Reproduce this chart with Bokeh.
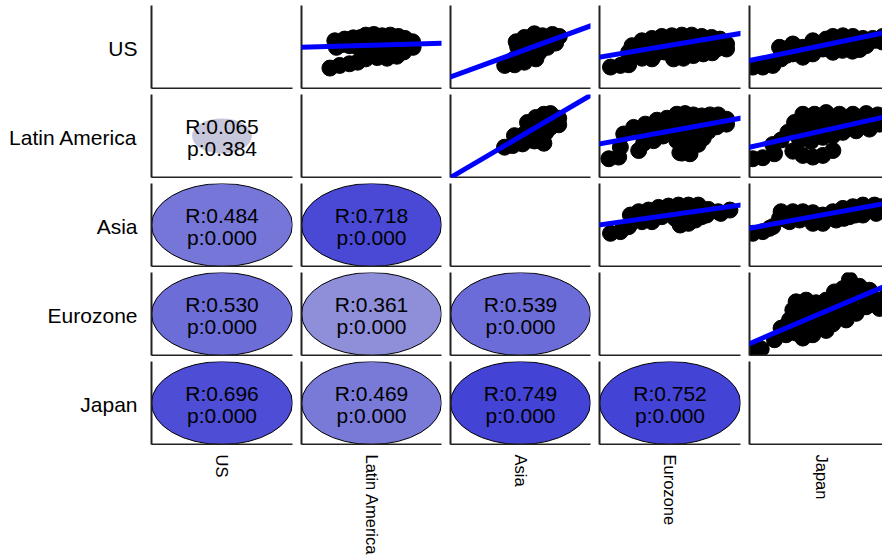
import numpy as np
from bokeh.plotting import figure
from bokeh.layouts import gridplot
from bokeh.models import Range1d, LinearAxis, FixedTicker, Slope
from bokeh.core.properties import value
from bokeh.embed import file_html
from bokeh.resources import INLINE

# ---------------- data ----------------
names = ["US", "Latin America", "Asia", "Eurozone", "Japan"]

# lower triangle: (row, col) pairs with correlation R and p value
corr_rows = [1, 2, 2, 3, 3, 3, 4, 4, 4, 4]
corr_cols = [0, 0, 1, 0, 1, 2, 0, 1, 2, 3]
corr_r = [0.065, 0.484, 0.718, 0.530, 0.361, 0.539, 0.696, 0.469, 0.749, 0.752]
corr_p = [0.384, 0.000, 0.000, 0.000, 0.000, 0.000, 0.000, 0.000, 0.000, 0.000]

# upper triangle scatter panels (values on a 0-100 scale of each panel)
us_latam_x = [20.3, 27.3, 34.3, 40.1, 45.9, 23.8, 30.8, 24.9, 34.3, 42.4, 45.9, 51.7, 57.6, 63.4, 69.2, 73.9, 79.3, 79.7, 73.9, 65.7, 58.7, 51.7, 44.8, 54.1, 61.1, 68.1,
              30, 38, 40, 48, 55, 62, 70, 76, 52, 59, 66, 73, 48, 29, 37]
us_latam_y = [24.6, 27.8, 29.8, 31.7, 35.7, 57.5, 59.5, 49.6, 51.6, 61.5, 64.3, 65.1, 63.5, 64.3, 62.7, 60.3, 56.3, 49.6, 47.6, 51.6, 53.6, 51.6, 48.4, 37.3, 36.5, 38.9,
              55, 57, 50, 56, 58, 58, 56, 54, 45, 45, 45, 44, 42, 53, 61]

us_asia_x = [38.7, 45.8, 52.8, 57.5, 50.5, 52.8, 46.9, 52.8, 59.9, 65.7, 72.8, 77.7, 75.1, 69.2, 63.4, 59.9, 55.2, 61.0,
             45, 55, 58, 63, 66, 70, 60, 50, 48, 62, 68, 72, 57, 64]
us_asia_y = [27.8, 28.6, 31.7, 37.7, 39.7, 47.6, 56.3, 61.5, 65.9, 63.5, 65.1, 62.7, 54.8, 49.6, 43.7, 55.6, 51.6, 35.7,
             35, 42, 47, 50, 56, 58, 60, 45, 50, 62, 60, 58, 40, 46]

us_euro_x = [7.8, 14.8, 20.7, 20.7, 23.1, 30.1, 37.2, 44.2, 51.3, 58.4, 65.4, 72.5, 79.5, 85.4, 90.1, 90.1, 83.1, 76.0, 68.9, 61.9, 54.8, 47.8, 40.7, 32.5, 30.1, 37.2, 52.5, 59.5, 66.6, 73.6,
             28, 35, 42, 50, 58, 65, 72, 79, 86, 40, 46, 56, 63, 70, 80, 20.7]
us_euro_y = [25.8, 27.8, 28.6, 43.7, 51.6, 57.5, 60.3, 62.7, 63.5, 64.3, 64.3, 62.7, 61.5, 59.5, 53.6, 47.6, 47.6, 47.6, 47.6, 51.6, 51.6, 51.6, 49.6, 45.6, 36.5, 35.7, 35.7, 36.5, 39.7, 41.7,
             48, 52, 55, 56, 57, 57, 56, 55, 53, 42, 44, 43, 44, 44, 43, 35.7]

us_japan_x = [2.3, 9.3, 16.3, 22.1, 21.0, 30.3, 30.3, 37.3, 44.3, 51.3, 53.6, 44.3, 58.3, 65.3, 72.3, 79.3, 86.2, 93.2, 65.3, 72.3, 81.6, 58.3, 37.3,
              14, 26, 26, 33, 40, 47, 50, 58, 62, 68, 75, 82, 88, 65, 72, 77, 93]
us_japan_y = [25.8, 25.8, 27.8, 35.7, 49.6, 53.6, 41.7, 37.7, 41.7, 47.6, 59.5, 57.5, 62.7, 63.5, 62.7, 60.3, 60.3, 62.7, 51.6, 49.6, 51.6, 43.7, 49.6,
              30, 40, 48, 46, 44, 50, 54, 56, 58, 57, 56, 56, 58, 46, 45, 47, 56]

latam_asia_x = [38.6, 44.5, 51.5, 45.7, 52.7, 57.4, 55.0, 60.9, 66.7, 71.4, 77.3, 77.3, 71.4, 65.6, 60.9, 66.7, 56.2,
                50, 55, 60, 62, 66, 70, 72, 62, 68, 48, 60]
latam_asia_y = [36.5, 38.5, 40.5, 50.4, 52.4, 58.3, 66.3, 72.2, 76.2, 77.0, 71.4, 63.5, 60.3, 56.3, 48.4, 41.3, 45.2,
                46, 50, 55, 62, 66, 68, 72, 52, 54, 43, 44]

latam_euro_x = [6.6, 13.6, 14.8, 17.2, 24.2, 27.8, 31.3, 38.4, 32.5, 40.7, 47.8, 54.8, 60.7, 66.6, 72.5, 78.4, 84.2, 90.1, 90.1, 83.1, 77.2, 73.6, 67.8, 64.2, 58.4, 64.2, 54.8, 51.3, 44.2, 37.2, 60.7, 67.8, 53.6,
                30, 36, 42, 48, 55, 62, 70, 78, 85, 45, 58, 66, 72, 80, 60, 62, 70, 57]
latam_euro_y = [22.6, 24.6, 36.5, 52.4, 60.3, 32.5, 41.3, 44.4, 64.3, 69.0, 71.4, 76.2, 77.0, 75.4, 74.2, 75.4, 75.4, 70.2, 64.3, 61.1, 55.6, 47.6, 44.4, 37.3, 29.4, 28.6, 44.4, 52.4, 57.1, 54.4, 60.3, 64.3, 64.3,
                56, 60, 62, 64, 68, 70, 70, 68, 68, 50, 52, 54, 60, 62, 46, 36, 40, 30]

latam_japan_x = [2.3, 9.3, 17.5, 16.3, 22.1, 26.8, 31.5, 37.3, 53.6, 62.9, 72.3, 81.6, 89.7, 90.9, 83.9, 74.6, 65.3, 58.3, 51.3, 43.1, 35.0, 30.3, 37.3, 44.3, 51.3, 58.3, 35.0, 49.0, 62.9, 74.6, 45.5,
                 40, 48, 56, 64, 72, 80, 86, 30, 40, 55, 70, 78, 45, 60, 65, 92]
latam_japan_y = [22.6, 23.8, 28.6, 39.7, 45.2, 54.4, 66.3, 76.2, 78.2, 76.2, 76.2, 77.0, 75.4, 64.3, 58.3, 56.3, 54.4, 50.4, 48.4, 43.7, 45.2, 31.7, 26.6, 24.6, 26.6, 32.5, 60.3, 64.3, 66.3, 68.3, 76.2,
                 70, 72, 72, 72, 72, 72, 70, 55, 58, 58, 62, 62, 50, 55, 60, 70]

asia_euro_x = [7.8, 14.8, 20.7, 21.9, 27.8, 34.8, 41.9, 48.9, 56.0, 63.1, 70.1, 77.2, 84.2, 92.5, 72.5, 63.1, 57.2, 53.6, 44.2, 37.2, 30.1, 23.1,
               28, 35, 42, 50, 58, 65, 72, 60, 66, 68, 76, 86]
asia_euro_y = [40.0, 42.0, 48.0, 62.0, 66.0, 68.0, 71.2, 72.8, 74.0, 74.0, 74.0, 68.8, 66.0, 68.0, 60.0, 52.0, 50.0, 58.0, 60.0, 54.0, 54.0, 54.0,
               58, 62, 64, 66, 68, 68, 68, 62, 63, 56, 62, 64]

asia_japan_x = [2.3, 9.3, 16.3, 21.0, 22.1, 30.3, 37.3, 44.3, 51.3, 58.3, 65.3, 72.3, 79.3, 87.4, 92.1, 88.6, 79.3, 69.9, 60.6, 51.3, 44.3, 35.0, 28.0,
                14, 26, 33, 40, 47, 55, 62, 68, 75, 82, 88, 74, 66]
asia_japan_y = [40.0, 42.0, 48.0, 58.0, 66.0, 66.0, 66.0, 64.8, 62.0, 66.0, 70.0, 72.0, 74.0, 74.0, 72.0, 64.0, 62.0, 60.0, 56.0, 52.0, 52.0, 56.0, 54.0,
                46, 56, 60, 60, 58, 58, 62, 66, 68, 68, 69, 62, 58]

euro_japan_x = [2.3, 8.2, 17.5, 22.1, 28.0, 30.3, 32.6, 39.6, 46.6, 53.6, 59.4, 65.3, 69.9, 76.9, 83.9, 89.7, 90.9, 81.6, 74.6, 67.6, 58.3, 53.6, 44.3, 37.3, 32.6, 35.0, 44.3, 53.6, 62.9, 25.6,
                25, 30, 38, 42, 45, 40, 48, 55, 60, 65, 70, 75, 80, 85, 70, 64, 58, 48, 40, 30, 95]
euro_japan_y = [7.1, 7.9, 19.0, 32.9, 42.9, 54.8, 64.7, 66.7, 63.5, 66.7, 76.6, 80.6, 91.3, 83.3, 78.6, 66.7, 56.7, 58.7, 50.8, 42.9, 38.1, 30.2, 25.0, 21.0, 27.0, 42.9, 46.8, 50.8, 58.7, 25.0,
                35, 45, 35, 40, 55, 58, 58, 58, 65, 70, 75, 75, 70, 70, 62, 55, 48, 38, 30, 32, 70]

# regression lines of the upper panels: intercept and slope
fit_intercept = {(0, 1): 49.6, (0, 2): 13.9, (0, 3): 37.7, (0, 4): 33.7, (1, 2): 0.0,
                 (1, 3): 40.5, (1, 4): 36.5, (2, 3): 50.0, (2, 4): 46.0, (3, 4): 14.3}
fit_slope = {(0, 1): 0.048, (0, 2): 0.615, (0, 3): 0.286, (0, 4): 0.357, (1, 2): 0.99,
             (1, 3): 0.309, (1, 4): 0.386, (2, 3): 0.24, (2, 4): 0.317, (3, 4): 0.73}

scatter_data = {
    (0, 1): (us_latam_x, us_latam_y), (0, 2): (us_asia_x, us_asia_y),
    (0, 3): (us_euro_x, us_euro_y), (0, 4): (us_japan_x, us_japan_y),
    (1, 2): (latam_asia_x, latam_asia_y), (1, 3): (latam_euro_x, latam_euro_y),
    (1, 4): (latam_japan_x, latam_japan_y), (2, 3): (asia_euro_x, asia_euro_y),
    (2, 4): (asia_japan_x, asia_japan_y), (3, 4): (euro_japan_x, euro_japan_y),
}

# ---------------- layout / style ----------------
LABEL_W = 148
COL_W = [150, 149, 149, 150, 136]
CELL_H = 89
BOTTOM_H = 557 - 5 * CELL_H
PAD_L, PAD_R, PAD_T, PAD_B = 3, 6, 5, 1
FULL_FRAME_W = 143
FONT = value("Liberation Sans")
N = len(names)


def corr_color(r):
    lo = np.array([211, 211, 220])
    hi = np.array([19, 19, 212])
    c = (1 - r) * lo + r * hi
    return "#%02x%02x%02x" % tuple(int(round(v)) for v in c)


def base_fig(width, height, xr, yr, **kw):
    p = figure(width=width, height=height, x_range=xr, y_range=yr,
               toolbar_location=None, output_backend="svg",
               x_axis_location=None, y_axis_location=None,
               outline_line_color=None, background_fill_color="white",
               border_fill_color="white", **kw)
    p.grid.visible = False
    return p


def cell_fig(i, j):
    last = (j == N - 1)
    width = COL_W[j]
    pad_r = 0 if last else PAD_R
    frame_w = width - PAD_L - pad_r
    x_end = 100.0 * frame_w / FULL_FRAME_W if last else 100.0
    p = base_fig(width, CELL_H, Range1d(0, x_end), Range1d(0, 100),
                 min_border_left=PAD_L, min_border_right=pad_r,
                 min_border_top=PAD_T, min_border_bottom=PAD_B)
    for loc in ("left", "below"):
        ax = LinearAxis(ticker=FixedTicker(ticks=[]), axis_line_color="#222222",
                        axis_line_width=2, major_tick_line_color=None,
                        minor_tick_line_color=None, major_tick_out=0, major_tick_in=0,
                        major_label_standoff=0, major_label_text_font_size="0px")
        p.add_layout(ax, loc)
    return p


corr_lookup = {(r, c): (rv, pv) for r, c, rv, pv in zip(corr_rows, corr_cols, corr_r, corr_p)}

rows = []
for i in range(N):
    lab = base_fig(LABEL_W, CELL_H, Range1d(0, LABEL_W), Range1d(0, CELL_H), min_border=0)
    frame_mid = CELL_H - PAD_T - (CELL_H - PAD_T - PAD_B) / 2.0
    lab.text(x=[LABEL_W - 11], y=[frame_mid], text=[names[i]],
             text_align="right", text_baseline="middle", text_font=FONT,
             text_font_size="21px", text_color="#000000")
    row = [lab]
    for j in range(N):
        p = cell_fig(i, j)
        if (i, j) in corr_lookup:
            rv, pv = corr_lookup[(i, j)]
            s = 1.0 - 1.5 * pv
            p.ellipse(x=[50], y=[50], width=[100 * s], height=[100 * s],
                      fill_color=corr_color(rv),
                      line_color="#000000" if pv < 0.05 else None, line_width=1)
            p.text(x=[50], y=[50], text=["R:%.3f" % rv], text_align="center",
                   text_baseline="middle", y_offset=-10, text_font=FONT,
                   text_font_size="21px", text_color="#000000")
            p.text(x=[50], y=[50], text=["p:%.3f" % pv], text_align="center",
                   text_baseline="middle", y_offset=12, text_font=FONT,
                   text_font_size="21px", text_color="#000000")
        elif (i, j) in scatter_data:
            xs, ys = scatter_data[(i, j)]
            p.scatter(x=xs, y=ys, size=16, fill_color="black", line_color="black")
            p.add_layout(Slope(gradient=fit_slope[(i, j)], y_intercept=fit_intercept[(i, j)],
                               line_color="#0000ff", line_width=5))
        row.append(p)
    rows.append(row)

bottom = [None]
for j in range(N):
    width = COL_W[j]
    b = base_fig(width, BOTTOM_H, Range1d(0, width), Range1d(0, BOTTOM_H), min_border=0)
    b.text(x=[PAD_L + FULL_FRAME_W / 2.0], y=[BOTTOM_H - 9], text=[names[j]],
           angle=-np.pi / 2, text_align="left", text_baseline="middle",
           text_font=FONT, text_font_size="16.5px", text_color="#000000")
    bottom.append(b)
rows.append(bottom)

grid = gridplot(rows, toolbar_location=None)

open("out.html", "w").write(file_html(grid, INLINE))
